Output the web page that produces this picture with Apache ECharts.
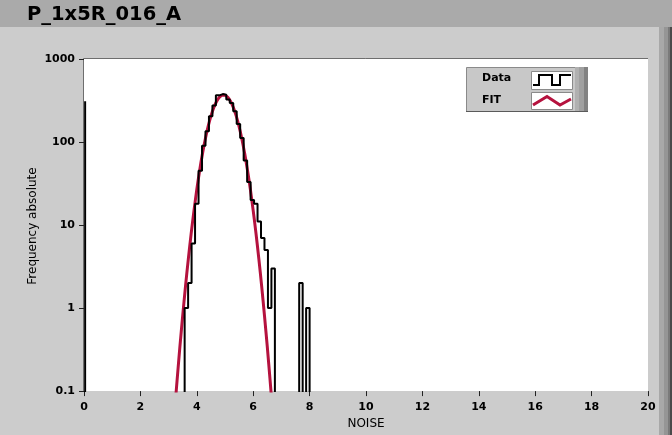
<!DOCTYPE html>
<html>
<head>
<meta charset="utf-8">
<script src="https://cdn.jsdelivr.net/npm/echarts@6/dist/echarts.min.js"></script>
<style>
html,body{margin:0;padding:0;background:#cccccc;}
#chart{width:672px;height:435px;}
</style>
</head>
<body>
<div id="chart"></div>
<script>
// ---- data ----
const titleText = 'P_1x5R_016_A';
const xAxisTitle = 'NOISE';
const yAxisTitle = 'Frequency absolute';
const legendNames = ['Data', 'FIT'];

// histogram (bin left edges, counts), bin width
const binWidth = 0.1231;
const binLeft = [3.569, 3.692, 3.815, 3.938, 4.062, 4.185, 4.308, 4.431, 4.554, 4.677,
                 4.800, 4.923, 5.046, 5.169, 5.292, 5.415, 5.538, 5.662, 5.785, 5.908,
                 6.031, 6.154, 6.277, 6.400, 6.523, 6.646, 7.631, 7.877];
const binCount = [1, 2, 6, 18, 45, 90, 135, 205, 275, 365,
                  378, 372, 325, 295, 235, 165, 112, 60, 33, 20,
                  18, 11, 7, 5, 1, 3, 2, 1];

// isolated spike at noise 0
const spikeX = [0.04];
const spikeCount = [310];

// fitted curve
const fitX = [3.2, 3.3, 3.4, 3.5, 3.6, 3.7, 3.8, 3.9, 4.0, 4.1, 4.2, 4.3, 4.4, 4.5, 4.6, 4.7, 4.8, 4.9,
              5.0, 5.1, 5.2, 5.3, 5.4, 5.5, 5.6, 5.7, 5.8, 5.9, 6.0, 6.1, 6.2, 6.3, 6.4, 6.5, 6.6, 6.7];
const fitY = [0.05, 0.134, 0.34, 0.81, 1.84, 3.92, 7.88, 14.9, 26.8, 45.2, 72.0, 108, 153, 205, 259, 308, 346, 367,
              367, 346, 308, 259, 205, 153, 108, 72.0, 45.2, 26.8, 14.9, 7.88, 3.92, 1.84, 0.81, 0.34, 0.134, 0.05];

const FLOOR = 0.01; // empty bins drop below the axis minimum

// ---- build series ----
const histData = [];
for (let i = 0; i < binLeft.length; i++) {
  const left = binLeft[i];
  if (i === 0) {
    histData.push([left, FLOOR]);
  } else {
    const prevRight = binLeft[i - 1] + binWidth;
    if (left - prevRight > 0.01) {
      histData.push([prevRight, FLOOR]);
      histData.push([left, FLOOR]);
    }
  }
  histData.push([left, binCount[i]]);
}
histData.push([binLeft[binLeft.length - 1] + binWidth, binCount[binCount.length - 1]]);
histData.push([binLeft[binLeft.length - 1] + binWidth, FLOOR]);

const spikeData = [];
spikeX.forEach((x, i) => { spikeData.push([x, FLOOR], [x, spikeCount[i]], [x, FLOOR]); });

const fitData = fitX.map((x, i) => [x, fitY[i]]);

const FONT = 'DejaVu Sans';
const chart = echarts.init(document.getElementById('chart'));
chart.setOption({
  animation: false,
  backgroundColor: '#cccccc',
  grid: {left: 84, top: 59, right: 24, bottom: 43, show: true, backgroundColor: '#ffffff', borderWidth: 0},
  xAxis: {
    type: 'value', min: 0, max: 20, interval: 2,
    name: xAxisTitle, nameLocation: 'middle', nameGap: 26,
    nameTextStyle: {fontFamily: FONT, fontSize: 12, color: '#000'},
    axisLine: {show: false},
    axisTick: {show: true, length: 5, lineStyle: {color: '#222', width: 1}},
    axisLabel: {fontFamily: FONT, fontSize: 11, fontWeight: 'bold', color: '#000', margin: 11},
    splitLine: {show: false}
  },
  yAxis: {
    type: 'log', logBase: 10, min: 0.1, max: 1000,
    axisLine: {show: false},
    axisTick: {show: true, length: 5, lineStyle: {color: '#222', width: 1}},
    axisLabel: {fontFamily: FONT, fontSize: 11, fontWeight: 'bold', color: '#000', margin: 9,
      formatter: v => (v < 1 ? v.toFixed(1) : String(Math.round(v)))},
    minorTick: {show: false},
    splitLine: {show: false}
  },
  series: [
    {type: 'line', name: 'spike', data: spikeData, symbol: 'none', clip: true,
     lineStyle: {color: '#000', width: 2}},
    {type: 'line', name: legendNames[1], data: fitData, symbol: 'none', smooth: 0.3, clip: true,
     lineStyle: {color: '#b5123e', width: 3}, z: 2},
    {type: 'line', name: legendNames[0], data: histData, step: 'end', symbol: 'none', clip: true,
     lineStyle: {color: '#000', width: 2}, z: 3}
  ],
  graphic: [
    // title bar
    {type: 'rect', shape: {x: 0, y: 0, width: 672, height: 27}, style: {fill: '#aaaaaa'}, silent: true, z: -1},
    {type: 'text', left: 27, top: 5, style: {text: titleText, font: 'bold 19.5px "DejaVu Sans"', fill: '#000'}},
    // y axis title
    {type: 'text', x: 33, y: 226, rotation: Math.PI / 2,
     style: {text: yAxisTitle, font: '12px "DejaVu Sans"', fill: '#000', align: 'center', verticalAlign: 'middle'}},
    // plot inset border (top, left)
    {type: 'line', shape: {x1: 83.5, y1: 58.5, x2: 648, y2: 58.5}, style: {stroke: '#6e6e6e', lineWidth: 1}},
    {type: 'line', shape: {x1: 83.5, y1: 58.5, x2: 83.5, y2: 392}, style: {stroke: '#6e6e6e', lineWidth: 1}},
    // right edge strips
    {type: 'rect', shape: {x: 659, y: 27, width: 5, height: 408}, style: {fill: '#a8a8a8'}},
    {type: 'rect', shape: {x: 664, y: 27, width: 4, height: 408}, style: {fill: '#959595'}},
    {type: 'rect', shape: {x: 668, y: 27, width: 2, height: 408}, style: {fill: '#7a7a7a'}},
    {type: 'rect', shape: {x: 670, y: 27, width: 2, height: 408}, style: {fill: '#4a4a4a'}},
    // legend box
    {type: 'rect', shape: {x: 466.5, y: 67.5, width: 109, height: 44}, style: {fill: '#c8c8c8', stroke: '#8a8a8a', lineWidth: 1}},
    {type: 'rect', shape: {x: 575, y: 67, width: 4, height: 45}, style: {fill: '#b0b0b0'}},
    {type: 'rect', shape: {x: 579, y: 67, width: 5, height: 45}, style: {fill: '#a0a0a0'}},
    {type: 'rect', shape: {x: 584, y: 67, width: 4, height: 45}, style: {fill: '#828282'}},
    {type: 'line', shape: {x1: 466, y1: 111.5, x2: 588, y2: 111.5}, style: {stroke: '#5a5a5a', lineWidth: 1}},
    {type: 'text', left: 482, top: 73, style: {text: legendNames[0], font: 'bold 11px "DejaVu Sans"', fill: '#000'}},
    {type: 'text', left: 482, top: 95, style: {text: legendNames[1], font: 'bold 11px "DejaVu Sans"', fill: '#000'}},
    {type: 'rect', shape: {x: 531.5, y: 71.5, width: 41, height: 18}, style: {fill: '#ffffff', stroke: '#8a8a8a', lineWidth: 1}},
    {type: 'rect', shape: {x: 531.5, y: 92.5, width: 41, height: 17}, style: {fill: '#ffffff', stroke: '#8a8a8a', lineWidth: 1}},
    {type: 'polyline', shape: {points: [[533, 85], [539, 85], [539, 75], [552, 75], [552, 85], [560, 85], [560, 75], [571, 75]]},
     style: {stroke: '#000', lineWidth: 2, fill: null}},
    {type: 'polyline', shape: {points: [[533, 105], [547, 96.5], [560, 105], [571, 99]]},
     style: {stroke: '#b5123e', lineWidth: 3, fill: null}}
  ]
});
</script>
</body>
</html>
